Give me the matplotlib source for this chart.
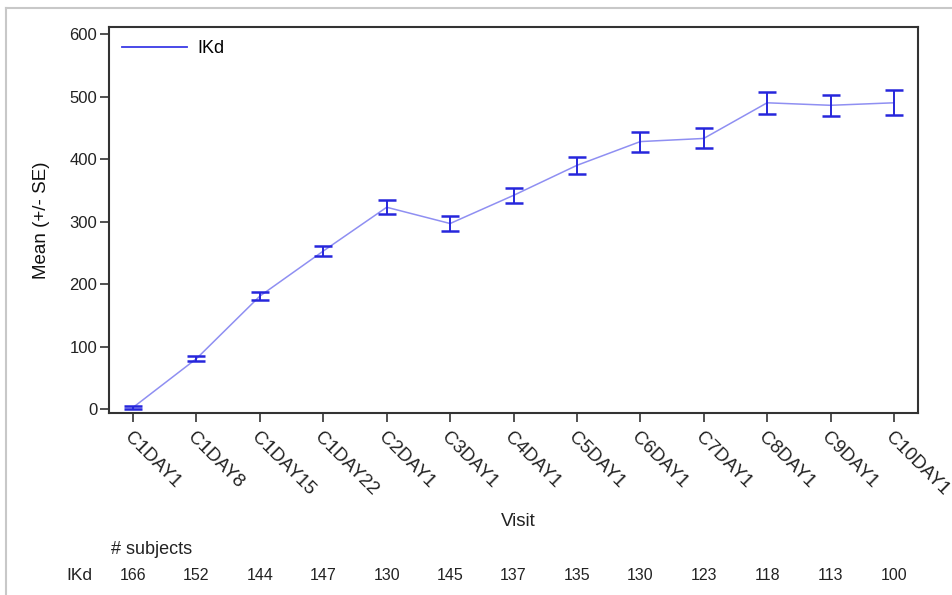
import matplotlib
matplotlib.use("Agg")
import matplotlib.pyplot as plt
from matplotlib.lines import Line2D
from matplotlib.transforms import blended_transform_factory

plt.rcParams['font.family'] = ['Liberation Sans', 'DejaVu Sans']

visits = ["C1DAY1", "C1DAY8", "C1DAY15", "C1DAY22", "C2DAY1", "C3DAY1",
          "C4DAY1", "C5DAY1", "C6DAY1", "C7DAY1", "C8DAY1", "C9DAY1", "C10DAY1"]
mean_ikd = [3, 81, 181, 253, 323, 297, 342, 390, 428, 433, 490, 486, 490]
se_ikd = [3, 4, 6, 8, 11, 12, 12, 14, 16, 16, 18, 17, 20]
n_subjects = [166, 152, 144, 147, 130, 145, 137, 135, 130, 123, 118, 113, 100]
series_name = "IKd"

W, H = 952, 595
fig = plt.figure(figsize=(W / 100, H / 100), dpi=100)
ax = fig.add_axes([109 / W, 1 - 413.3 / H, (918 - 109) / W, (413.3 - 27.3) / H])

x = list(range(len(visits)))
line_color = "#8f8ff2"
bar_color = "#2626dc"

ax.plot(x, mean_ikd, color=line_color, lw=1.1, zorder=2)
ax.errorbar(x, mean_ikd, yerr=se_ikd, fmt="none", ecolor=bar_color,
            elinewidth=1.4, capsize=6.5, capthick=1.8, zorder=3)

ax.set_xlim(-0.38, 12.38)
ax.set_ylim(-6.4, 610.7)
ax.set_yticks([0, 100, 200, 300, 400, 500, 600])
ax.set_xticks(x)
ax.set_xticklabels(visits, rotation=-45, ha="left", va="top",
                   rotation_mode="anchor", fontsize=13.5, color="#222222")
ax.tick_params(axis="y", labelsize=12, length=6.5, width=1.2,
               color="#333333", labelcolor="#222222", pad=2)
ax.tick_params(axis="x", length=6.5, width=1.2, color="#333333", pad=5)
for s in ax.spines.values():
    s.set_color("#333333")
    s.set_linewidth(1.5)

ax.set_ylabel("Mean (+/- SE)", fontsize=13.5, color="#111111", labelpad=14)
fig.text((109 + 918) / 2 / W + 0.005, 1 - 522 / H, "Visit", fontsize=13.5,
         ha="center", va="center", color="#222222")

handle = Line2D([], [], color="#3a3ae6", lw=1.3)
ax.legend([handle], [series_name], loc="upper left", frameon=False,
          fontsize=13, handlelength=3.6, handletextpad=0.6,
          borderaxespad=0.3, bbox_to_anchor=(0.0, 1.0))

# subject counts under each visit
trans = blended_transform_factory(ax.transData, fig.transFigure)
fig.text(111 / W, 1 - 550 / H, "# subjects", fontsize=13, ha="left",
         va="center", color="#222222")
fig.text(79 / W, 1 - 575 / H, series_name, fontsize=12.5, ha="center",
         va="center", color="#222222")
for xi, n in zip(x, n_subjects):
    fig.text(xi, 1 - 575 / H, str(n), transform=trans, fontsize=11.5,
             ha="center", va="center", color="#222222")

# light outer border
fig.add_artist(Line2D([6 / W, 1.0], [1 - 8 / H, 1 - 8 / H],
                      transform=fig.transFigure, color="#c8c8c8", lw=1.5))
fig.add_artist(Line2D([6 / W, 6 / W], [1 - 8 / H, 0.0],
                      transform=fig.transFigure, color="#c8c8c8", lw=1.5))

fig.savefig("out.png", dpi=100)
